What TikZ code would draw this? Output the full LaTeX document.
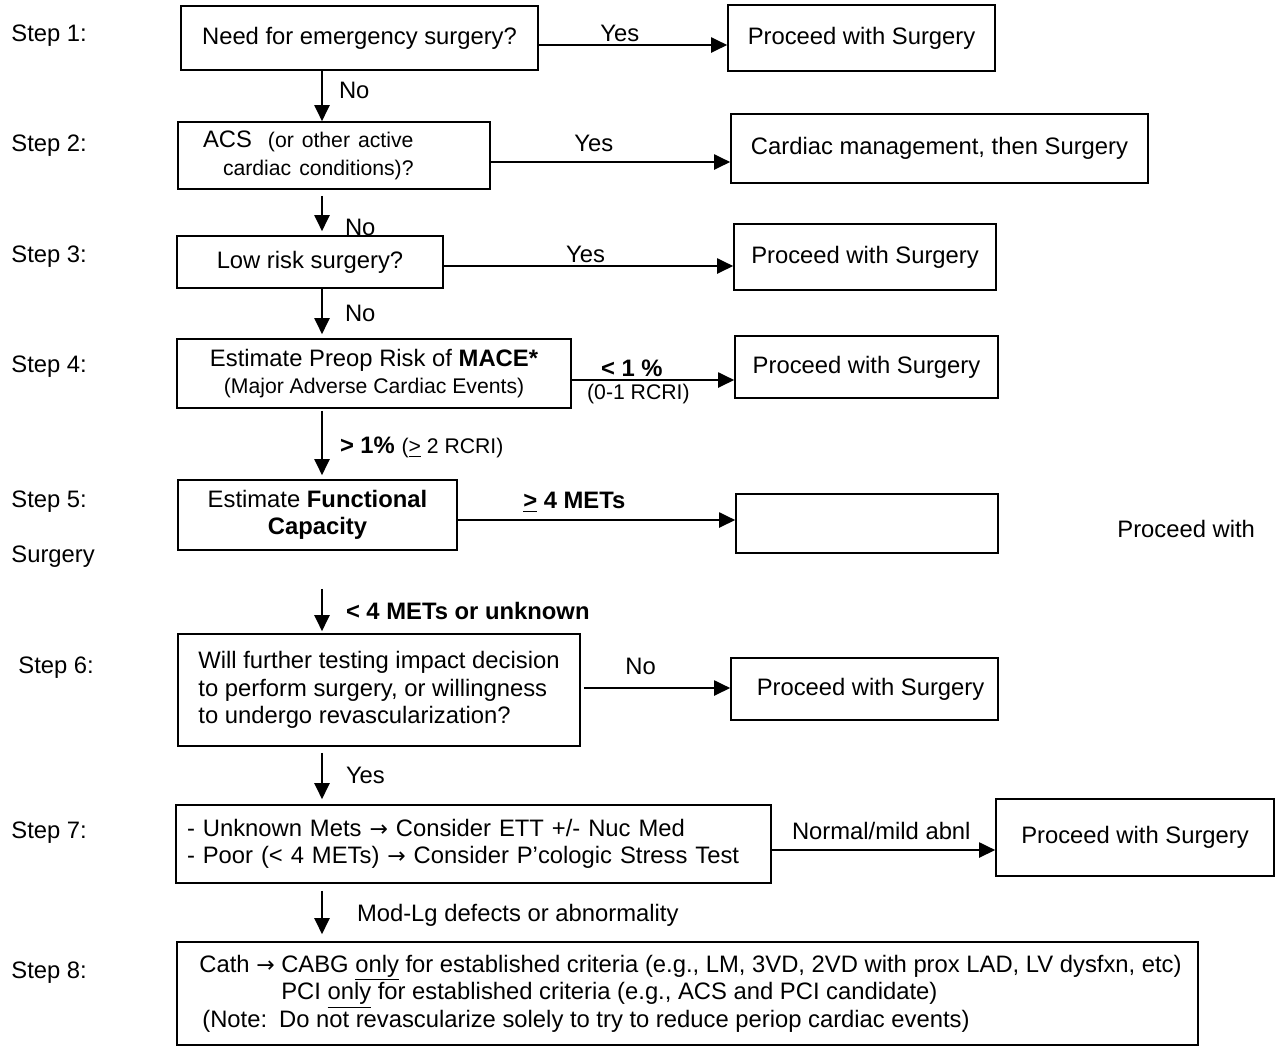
\documentclass[tikz,border=0pt]{standalone}
\usepackage{fontspec}
\setmainfont{Liberation Sans}
\newfontfamily\arrowfont{DejaVu Sans}
\usetikzlibrary{arrows.meta,positioning}
\newcommand{\subtxt}{\fontsize{10.6}{12.7}\selectfont}
\newcommand{\thenarrow}{{\arrowfont\fontsize{11}{13}\selectfont →}}

\begin{document}
\begin{tikzpicture}[x=0.5pt,y=-0.5pt,
  font=\fontsize{11.9}{13.8}\selectfont,
  box/.style={draw, line width=0.8pt, inner sep=0pt},
  arr/.style={-{Triangle[length=8pt,width=7.5pt]}, line width=1pt},
  steplbl/.style={anchor=west, inner sep=0pt},
  lbl/.style={inner sep=1pt}]
  \useasboundingbox (0,0) rectangle (1277,1051);
  \coordinate (spine) at (322,0);
  % step column
  \node[steplbl] (step1) at (11,36) {Step 1:};
  \node[steplbl] (step2) at (11,146) {Step 2:};
  \node[steplbl] (step3) at (11,257) {Step 3:};
  \node[steplbl] (step4) at (11,367) {Step 4:};
  \node[steplbl] (step5) at (11,502) {Step 5:};
  \node[steplbl] (surg5) at (11,557) {Surgery};
  \node[steplbl] (step6) at (18,668) {Step 6:};
  \node[steplbl] (step7) at (11,833) {Step 7:};
  \node[steplbl] (step8) at (11,973) {Step 8:};
  % decision boxes
  \node[box, minimum width=178.5pt, minimum height=32pt] (q1) at (359.5,38) {Need for emergency surgery?};
  \node[box, text width=131pt, inner xsep=12.5pt, minimum height=33.5pt, align=left] (q2) at (334,155.5)
    {ACS\hspace{8pt}{\subtxt(or other active}\\\hspace*{10pt}{\subtxt cardiac conditions)?}};
  \node[box, minimum width=133pt, minimum height=26pt] (q3) at (310,262) {Low risk surgery?};
  \node[box, minimum width=197pt, minimum height=34.5pt, align=center] (q4) at (374,373.5)
    {Estimate Preop Risk of \textbf{MACE*}\\{\subtxt(Major Adverse Cardiac Events)}};
  \node[box, minimum width=139.5pt, minimum height=35pt, align=center] (q5) at (317.5,515)
    {Estimate \textbf{Functional}\\\textbf{Capacity}};
  \node[box, minimum width=201pt, minimum height=56pt, align=left] (q6) at (379,690)
    {Will further testing impact decision\\to perform surgery, or willingness\\to undergo revascularization?};
  \node[box, text width=286.5pt, inner xsep=5.5pt, minimum height=39pt, align=left] (q7) at (473.5,844)
    {- Unknown Mets \thenarrow{} Consider ETT +/- Nuc Med\\- Poor (< 4 METs) \thenarrow{} Consider P’cologic Stress Test};
  \node[box, minimum width=510.5pt, minimum height=51.5pt, align=left] (q8) at (687.5,993.5)
    {\hspace*{3pt}Cath \thenarrow{} CABG \underline{only} for established criteria (e.g., LM, 3VD, 2VD with prox LAD, LV dysfxn, etc)\\
     \hspace*{3pt}\phantom{Cath \thenarrow{} }PCI \underline{only} for established criteria (e.g., ACS and PCI candidate)\\
     \hspace*{4.5pt}(Note:\enspace Do not revascularize solely to try to reduce periop cardiac events)};
  % outcome boxes
  \node[box, minimum width=133.5pt, minimum height=33pt] (go1) at (861.5,38) {Proceed with Surgery};
  \node[box, minimum width=208.5pt, minimum height=34.5pt] (go2) at (939.5,148.5) {Cardiac management, then Surgery};
  \node[box, minimum width=131pt, minimum height=33pt] (go3) at (865,257) {Proceed with Surgery};
  \node[box, minimum width=131.5pt, minimum height=31pt] (go4) at (866.5,367) {Proceed with Surgery};
  \node[box, minimum width=131pt, minimum height=29.5pt] (go5) at (867,523.5) {};
  \node[steplbl] (go5txt) at (1117,529) {Proceed with};
  \node[box, minimum width=133.5pt, minimum height=31pt] (go6) at (864.5,689) {\hspace*{6pt}Proceed with Surgery};
  \node[box, minimum width=139pt, minimum height=38.5pt] (go7) at (1135,837.5) {Proceed with Surgery};
  % down the spine
  \draw[arr] (spine |- q1.south) -- node[lbl, right=7pt, pos=0.38] (no1) {No} (spine |- q2.north);
  \draw[arr, shorten <=3pt, shorten >=2pt] (spine |- q2.south) -- node[lbl, right=10pt, pos=0.83] (no2) {No} (spine |- q3.north);
  \draw[arr, shorten >=2pt] (spine |- q3.south) -- node[lbl, right=10pt, pos=0.49] (no3) {No} (spine |- q4.north);
  \draw[arr, shorten <=1pt, shorten >=2pt] (spine |- q4.south) -- node[lbl, right=7.5pt, pos=0.55] (gt1) {\textbf{> 1\%} {\subtxt(\underline{>} 2 RCRI)}} (spine |- q5.north);
  \draw[arr, shorten <=19pt, shorten >=1pt] (spine |- q5.south) -- node[lbl, right=10.5pt, pos=0.73] (lt4) {\textbf{< 4 METs or unknown}} (spine |- q6.north);
  \draw[arr, shorten <=3pt, shorten >=2.5pt] (spine |- q6.south) -- node[lbl, right=10.5pt, pos=0.5] (yes6) {Yes} (spine |- q7.north);
  \draw[arr, shorten <=3.5pt, shorten >=3.5pt] (spine |- q7.south) -- node[lbl, right=16pt, pos=0.55] (abn7) {Mod-Lg defects or abnormality} (spine |- q8.north);
  % across to the outcomes
  \draw[arr] ([yshift=-3.5pt]q1.east) -- node[lbl, above, pos=0.43] (yes1) {Yes} ([yshift=-3.5pt]q1.east -| go1.west);
  \draw[arr] ([yshift=-3.25pt]q2.east) -- node[lbl, above=3.5pt, pos=0.43] (yes2) {Yes} ([yshift=-3.25pt]q2.east -| go2.west);
  \draw[arr] ([yshift=-2pt]q3.east) -- node[lbl, above=0pt, pos=0.49] (yes3) {Yes} ([yshift=-2pt]q3.east -| go3.west);
  \draw[arr] ([yshift=-3.25pt]q4.east) -- node[lbl, above=0pt, pos=0.37] (lt1) {\textbf{\smash{\underline{<}} 1 \%}}
    node[lbl, below=0.5pt, pos=0.41] (rcri1) {\subtxt(0-1 RCRI)} ([yshift=-3.25pt]q4.east -| go4.west);
  \draw[arr] ([yshift=-2.5pt]q5.east) -- node[lbl, above=4pt, pos=0.42] (ge4) {\textbf{\smash{\underline{>}} 4 METs}} ([yshift=-2.5pt]q5.east -| go5.west);
  \draw[arr, shorten <=1.5pt] ([yshift=1pt]q6.east) -- node[lbl, above=5pt, pos=0.4] (no6) {No} ([yshift=1pt]q6.east -| go6.west);
  \draw[arr] ([yshift=-3pt]q7.east) -- node[lbl, above=3.5pt, pos=0.49] (norm7) {Normal/mild abnl} ([yshift=-3pt]q7.east -| go7.west);
\end{tikzpicture}
\end{document}
